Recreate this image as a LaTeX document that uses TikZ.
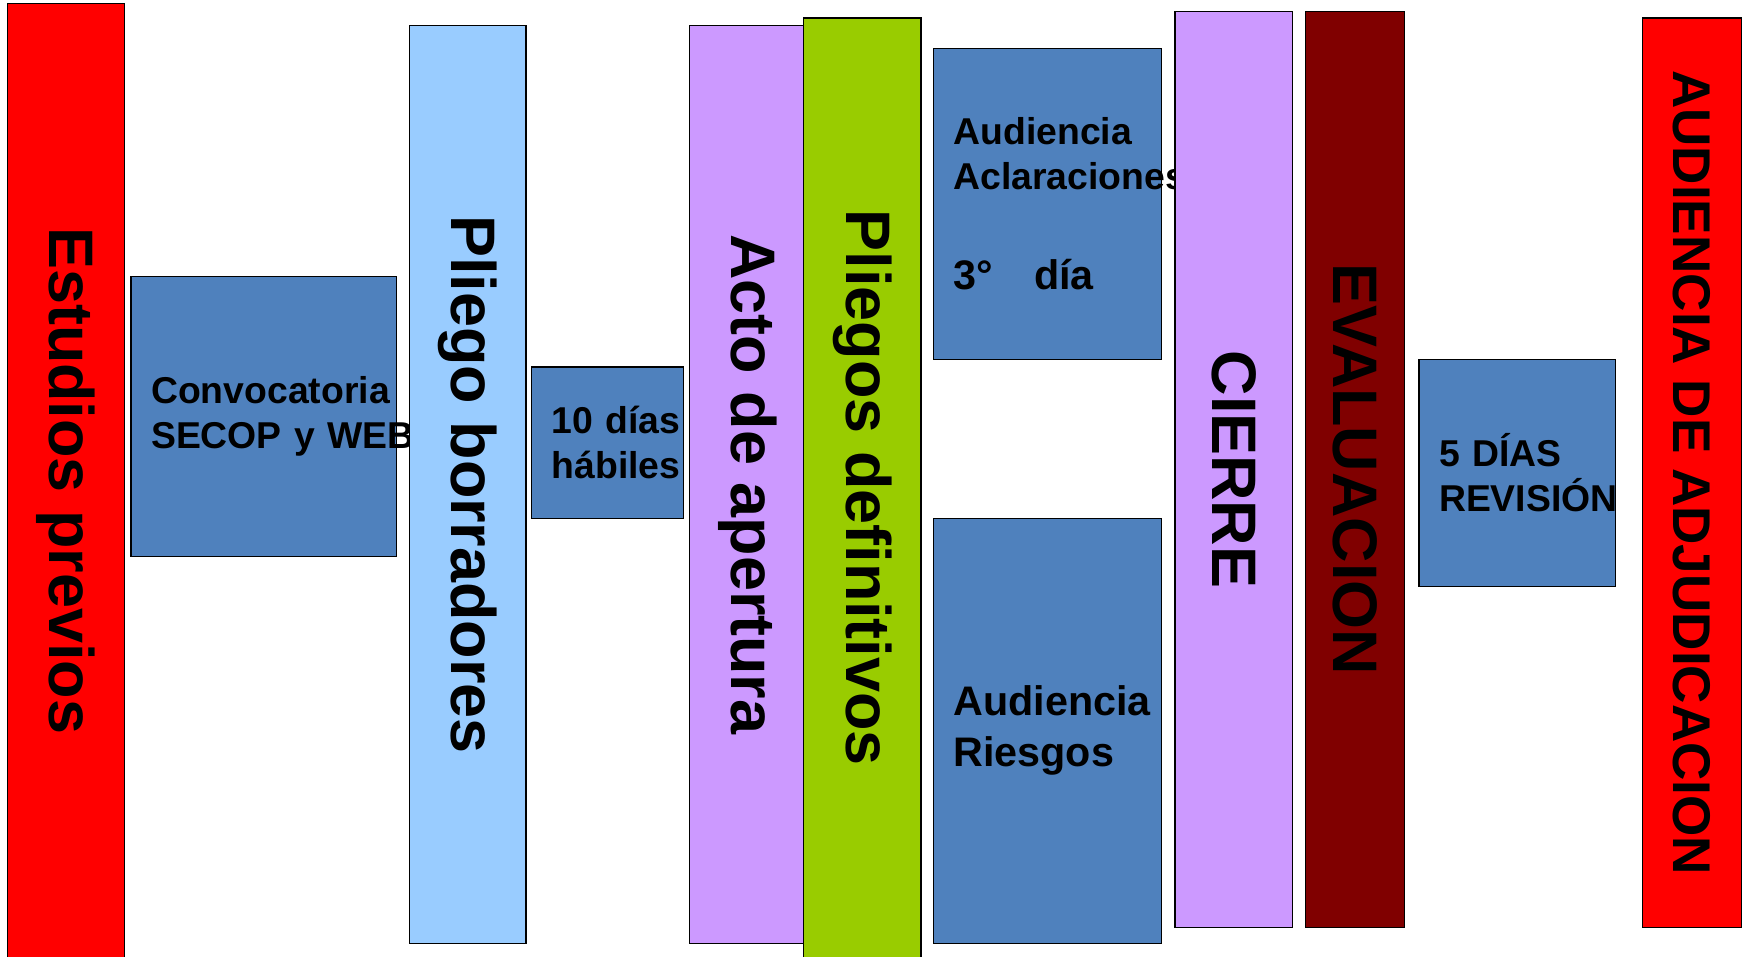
\documentclass[tikz,border=0pt]{standalone}
\usepackage{fontspec}
\setmainfont{Liberation Sans}
\definecolor{rojo}{HTML}{FF0000}
\definecolor{celeste}{HTML}{99CCFF}
\definecolor{lila}{HTML}{CC99FF}
\definecolor{verde}{HTML}{99CC00}
\definecolor{azul}{HTML}{4F81BD}
\definecolor{granate}{HTML}{800000}
\begin{document}
\begin{tikzpicture}[x=0.02cm, y=-0.02cm,
  bar/.style={draw, line width=0.6pt, rotate=-90, inner sep=0pt,
              font=\fontsize{32}{38}\selectfont\bfseries},
  box/.style={draw, line width=0.6pt, fill=azul, align=left, inner xsep=0.36cm,
              inner ysep=0pt, font=\fontsize{19}{23}\selectfont\bfseries}]
\useasboundingbox (0,0) rectangle (1563,854.5);
%
\node (convocatoria) at (235.5,372) [box, text width=4.02cm, minimum width=4.74cm, minimum height=5cm]
  {Convocatoria\\\mbox{SECOP y WEB}};
\node (diez) at (543,395.5) [box, text width=2cm, minimum width=2.72cm, minimum height=2.7cm]
  {\mbox{10 días}\\hábiles};
\node (aclaraciones) at (936,182) [box, text width=3.36cm, minimum width=4.08cm, minimum height=5.56cm]
  {Audiencia\\Aclaraciones\\[28pt]{\fontsize{21}{25}\selectfont 3°\quad día}};
\node (riesgos) at (936,653) [box, text width=3.36cm, minimum width=4.08cm, minimum height=7.6cm,
  font=\fontsize{21}{26}\selectfont\bfseries]
  {Audiencia\\Riesgos};
\node (revision) at (1356,422.5) [box, text width=2.8cm, minimum width=3.52cm, minimum height=4.06cm]
  {\mbox{5 DÍAS}\\REVISIÓN};
%
\node (estudios) at (59,429.5) [bar, fill=rojo, minimum width=17.06cm, minimum height=2.08cm] {Estudios previos};
\node (borradores) at (418,433) [bar, fill=celeste, minimum width=16.4cm, minimum height=2.08cm] {Pliego borradores};
\node (apertura) at (668.5,433) [bar, fill=lila, minimum width=16.4cm, minimum height=2.1cm] {Acto de apertura};
\node (definitivos) at (770.5,436) [bar, fill=verde, minimum width=16.8cm, minimum height=2.1cm] {Pliegos definitivos};
%
\node (cierre) at (1102.5,419.5) [bar, fill=lila, minimum width=16.38cm, minimum height=2.1cm] {CIERRE};
\node (evaluacion) at (1211,419.5) [bar, fill=granate, minimum width=16.38cm, minimum height=1.76cm] {EVALUACION};
\node (adjudicacion) at (1512,422.5) [bar, fill=rojo, minimum width=16.26cm, minimum height=1.76cm,
  font=\fontsize{27}{32}\selectfont\bfseries] {AUDIENCIA DE ADJUDICACION};
\end{tikzpicture}
\end{document}
